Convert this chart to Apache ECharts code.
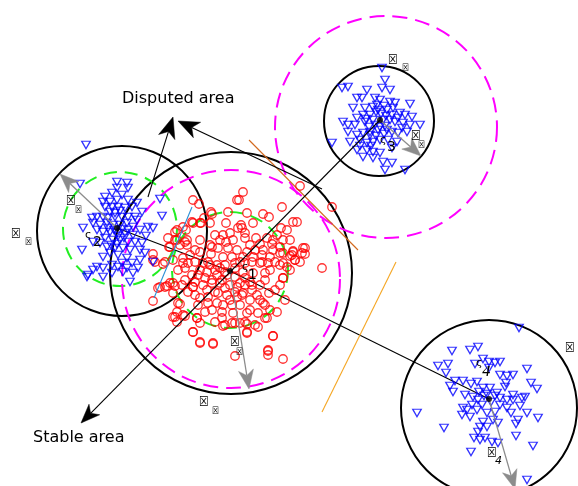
<!DOCTYPE html>
<html><head><meta charset="utf-8">
<script src="https://cdn.jsdelivr.net/npm/echarts@6/dist/echarts.min.js"></script>
<style>html,body{margin:0;padding:0;background:#fff}#c{width:578px;height:486px}</style>
</head><body><div id="c"></div>
<script>
// ---- data (pixel-like data units; y grows downward) ----
const redPoints = [
[243,192],[239,200],[193,200],[199,204],[300,186],[282,207],[212,214],[228,212],[247,213],[263,214],[269,217],[293,222],[297,222],[332,207],
[193,223],[200,223],[210,223],[226,223],[241,225],[253,223],[281,228],[287,230],[175,232],[186,230],[185,242],[177,240],[170,247],[200,252],
[293,251],[303,248],[305,254],[290,256],[295,260],[322,268],[287,267],[283,278],[192,275],[183,263],[165,262],[170,283],[175,286],[165,287],
[158,288],[173,293],[193,287],[180,304],[175,317],[185,316],[197,318],[193,332],[200,343],[213,344],[223,326],[232,323],[240,323],[247,324],
[247,333],[258,327],[267,318],[265,305],[273,336],[268,351],[268,355],[283,359],[235,356],
[192,222],[183,227],[177,230],[168,238],[175,240],[180,245],[187,240],[187,245],[169,247],[153,254],[163,264],[173,260],[183,258],[188,263],
[195,262],[203,263],[211,254],[212,247],[218,248],[220,240],[215,235],[223,235],[230,233],[226,242],[233,240],[238,228],[228,248],[237,250],
[232,257],[223,257],[208,262],[217,265],[225,265],[235,263],[155,262],[153,260],[201,223],[204,218],[211,212],[237,200],
[242,228],[245,233],[245,238],[256,238],[267,238],[273,240],[283,240],[290,240],[277,235],[250,245],[260,244],[272,244],[280,247],[305,248],
[302,253],[293,252],[283,253],[292,255],[295,260],[280,253],[273,250],[263,250],[255,250],[247,252],[243,257],[253,257],[262,255],[270,257],
[245,263],[252,262],[260,263],[268,263],[280,265],[283,263],[240,262],
[207,272],[198,275],[217,275],[227,275],[235,277],[203,285],[212,283],[220,283],[230,285],[237,287],[193,287],[195,295],[200,298],[208,297],
[218,293],[227,295],[237,297],[208,303],[217,303],[223,305],[232,305],[212,310],[222,312],[233,313],[160,287],[167,286],[173,283],[182,285],
[153,301],[178,303],[177,312],[183,315],[173,317],[177,322],[197,318],[200,323],[215,322],[225,325],[235,323],[193,332],[200,342],[213,343],
[243,272],[253,273],[265,273],[283,278],[240,283],[245,285],[252,285],[257,295],[243,293],[250,300],[263,303],[269,293],[270,310],[277,312],
[258,313],[247,313],[245,322],[247,332],[273,336],[268,350],
[210,265],[215,270],[220,268],[225,272],[235,268],[205,278],[212,280],[222,280],[245,278],[250,282],[200,270],[195,282],[207,290],[215,292],
[225,288],[235,292],[242,295],[252,290],[260,285],[265,280],[270,270],[275,262],[262,262],[210,245],[200,240],[195,250],[190,255],[185,268],
[188,292],[198,305],[205,312],[222,318],[230,300],[240,305],[250,310],[260,300],[275,290],[280,285],[290,270],[300,262],[285,300],[265,318],
[255,325],[185,280],[178,270]
];
const blueCluster2 = [
[86,145],[80,184],[117,182],[127,183],[117,188],[128,188],[112,193],[122,195],[105,197],[103,202],[110,202],[117,200],[128,200],[105,207],
[112,207],[118,207],[125,208],[132,207],[137,203],[92,218],[97,217],[103,217],[108,218],[115,217],[122,217],[128,217],[135,217],[93,223],
[100,225],[107,223],[113,225],[120,225],[127,223],[133,227],[83,228],[97,230],[103,232],[110,232],[117,233],[125,233],[133,235],[105,238],
[113,240],[120,240],[128,242],[135,242],[93,242],[100,243],[107,247],[115,248],[123,248],[130,250],[110,253],[118,255],[103,257],[82,250],
[127,258],[122,263],[132,263],[97,267],[103,268],[112,265],[118,267],[127,268],[103,277],[93,270],[112,273],[87,277],[123,272],[133,273],
[130,282],[160,199],[162,216],[142,212],[148,227],[153,228],[146,236],[140,230],[140,260],[153,262],[137,220],[142,243],[88,275],
[110,212],[115,213],[120,211],[108,228],[114,230],[122,229],[128,230],[118,236],[124,238],[111,245],[117,244],[140,250],[145,253],[138,268]
];
const blueCluster3 = [
[382,68],[385,80],[342,88],[348,87],[367,90],[382,88],[390,90],[357,98],[362,98],[375,98],[380,100],[390,102],[395,103],[410,104],
[353,108],[365,108],[373,107],[378,110],[387,110],[393,108],[400,113],[405,115],[412,117],[363,115],[370,115],[357,118],[343,122],[348,125],
[355,125],[365,122],[373,120],[383,120],[390,120],[395,122],[403,123],[410,125],[420,125],[348,132],[357,135],[363,133],[370,132],[378,130],
[387,130],[392,132],[398,133],[407,132],[350,142],[360,140],[367,143],[373,142],[380,140],[388,140],[397,142],[357,150],[367,150],[373,152],
[380,153],[363,157],[373,158],[383,162],[392,163],[385,170],[405,170],[332,143],[370,135],
[376,112],[381,114],[386,116],[375,125],[380,127],[385,126],[392,115],[369,127],[377,105],[384,106],[366,119],[398,118],[376,136],[384,134],
[360,146],[392,148],[371,146],[402,128]
];
const blueCluster4 = [
[519,328],[470,350],[478,347],[452,351],[483,359],[489,362],[495,363],[500,362],[438,366],[448,364],[475,364],[489,368],[446,373],[527,369],
[500,375],[507,376],[513,375],[506,383],[455,381],[463,381],[471,384],[477,382],[483,388],[490,388],[505,387],[531,383],[537,389],[450,386],
[453,392],[465,395],[473,397],[478,400],[487,394],[497,393],[500,398],[507,400],[513,400],[522,398],[525,397],[513,395],[520,406],[500,405],
[507,408],[511,413],[527,413],[472,405],[482,405],[463,408],[467,410],[477,410],[462,415],[470,417],[487,413],[495,412],[493,420],[498,423],
[483,422],[480,427],[487,427],[518,420],[516,424],[538,418],[478,432],[474,438],[480,440],[485,438],[492,442],[498,443],[516,436],[533,446],
[471,452],[417,413],[444,428],[527,480],[484,396],[491,402],[479,392],[495,396]
];
const clusterCenters = [[230,271],[117,228],[380,120],[489,399]];
const blackCircles = [[231,273,121],[122,231,85],[379,121,55],[489,408,88]];
const greenCircles = [[230,270,58],[120,229,57]];
const magentaCircles = [[231,279,109],[386,127,111]];
const blackSegments = [[117,228,230,271],[230,271,489,399]];
const brownSegments = [[249,140,358,250]];
const orangeSegments = [[322,412,396,262]];
const blueSegments = [[192,207,154,298]];
const bigBlackArrows = [[148,197,173,117],[322,189,178,121]];
const stableArrow = [[380,120,81,423]];
const grayArrows = [[117,228,60,174],[380,120,421,156],[230,271,249,389],[489,399,515,489]];
const areaLabels = ['Disputed area','Stable area'];
const boxChar = '\u2612';
const xiChar = '\u03c2';
const clusterIds = ['1','2','3','4'];

// ---- chart ----
const chart = echarts.init(document.getElementById('c'), null, {renderer:'canvas'});
function circleSeries(data, color, width, dash, z){
  return {type:'custom', coordinateSystem:'cartesian2d', data, z, silent:true, clip:false,
    renderItem:(p, api)=>{
      const c = api.coord([api.value(0), api.value(1)]);
      const s = api.size([api.value(2), api.value(2)]);
      return {type:'circle', shape:{cx:c[0], cy:c[1], r:s[0]},
        style:{fill:null, stroke:color, lineWidth:width, lineDash:dash}};
    }};
}
function segSeries(data, color, width, z){
  return {type:'custom', coordinateSystem:'cartesian2d', data, z, silent:true, clip:false,
    renderItem:(p, api)=>{
      const a = api.coord([api.value(0), api.value(1)]);
      const b = api.coord([api.value(2), api.value(3)]);
      return {type:'line', shape:{x1:a[0],y1:a[1],x2:b[0],y2:b[1]}, style:{stroke:color, lineWidth:width}};
    }};
}
function arrowSeries(data, color, width, L, W, z){
  return {type:'custom', coordinateSystem:'cartesian2d', data, z, silent:true, clip:false,
    renderItem:(p, api)=>{
      const a = api.coord([api.value(0), api.value(1)]);
      const b = api.coord([api.value(2), api.value(3)]);
      const dx=b[0]-a[0], dy=b[1]-a[1], len=Math.hypot(dx,dy);
      const ux=dx/len, uy=dy/len, nx=-uy, ny=ux;
      const bx=b[0]-ux*L, by=b[1]-uy*L;
      const mx=b[0]-ux*L*0.72, my=b[1]-uy*L*0.72;
      return {type:'group', children:[
        {type:'line', shape:{x1:a[0],y1:a[1],x2:mx,y2:my}, style:{stroke:color, lineWidth:width}},
        {type:'polygon', shape:{points:[[b[0],b[1]],[bx+nx*W/2,by+ny*W/2],[mx,my],[bx-nx*W/2,by-ny*W/2]]},
          style:{fill:color, stroke:color, lineWidth:0.5}}
      ]};
    }};
}
const FONT = '"DejaVu Sans", "Liberation Sans", sans-serif';
function txt(t, x, y, size, extra){
  return Object.assign({type:'text', x, y, z:100, silent:true,
    style:{text:t, font: size+'px '+FONT, fill:'#000', align:'left', verticalAlign:'top'}}, extra||{});
}
function box(x, y, size){ return txt(boxChar, x, y, size, {scaleX:0.78}); }

const option = {
  backgroundColor:'#ffffff',
  animation:false,
  grid:{left:0, right:0, top:0, bottom:0},
  xAxis:{type:'value', min:0, max:578, show:false},
  yAxis:{type:'value', min:0, max:486, inverse:true, show:false},
  series:[
    circleSeries(blackCircles, '#000000', 2, null, 2),
    circleSeries(greenCircles, '#22ee22', 2, [13,8], 3),
    circleSeries(magentaCircles, '#ff00ff', 2, [15,8], 3),
    segSeries(blackSegments, '#000000', 1.1, 4),
    segSeries(brownSegments, '#d2691e', 1.1, 4),
    segSeries(orangeSegments, '#f5a623', 1.1, 4),
    segSeries(blueSegments, '#2b8fd6', 1.1, 6),
    {type:'scatter', data:redPoints, symbol:'circle', symbolSize:8.5, z:5, silent:true,
      itemStyle:{color:'rgba(0,0,0,0)', borderColor:'#ff0000', borderWidth:1.3}},
    {type:'scatter', data:blueCluster2.concat(blueCluster3, blueCluster4), symbol:'triangle', symbolRotate:180,
      symbolSize:[8.5,7.5], z:5, silent:true,
      itemStyle:{color:'rgba(0,0,0,0)', borderColor:'#0000ff', borderWidth:1.3}},
    arrowSeries(bigBlackArrows, '#000000', 1.1, 21, 17, 6),
    arrowSeries(stableArrow, '#000000', 1.1, 19, 15, 6),
    arrowSeries(grayArrows, '#8c8c8c', 1.3, 19, 15, 6),
    {type:'scatter', data:clusterCenters, symbol:'circle', symbolSize:6, z:7, silent:true,
      itemStyle:{color:'#000000'}}
  ],
  graphic:[
    txt(areaLabels[0], 122, 91, 16),
    txt(areaLabels[1], 33, 430, 16),
    // cluster index labels
    txt(xiChar, 85, 230, 11), txt(clusterIds[1], 93, 235, 14),
    txt(xiChar, 242, 262, 11), txt(clusterIds[0], 248, 268, 14),
    txt(xiChar, 380, 135, 11), txt(clusterIds[2], 387, 140, 14),
    txt(xiChar, 476, 358, 11), txt(clusterIds[3], 482, 365, 14, {style:{text:clusterIds[3], font:'italic 14px '+FONT, fill:'#000', align:'left', verticalAlign:'top'}}),
    // missing-glyph style boxes
    box(66, 194, 14), box(75, 205, 10),
    box(11, 227, 14), box(25, 237, 10),
    box(388, 53, 14), box(402, 63, 10),
    box(411, 129, 14), box(418, 140, 10),
    box(230, 335, 14), box(236, 347, 10),
    box(199, 395, 14), box(212, 406, 10),
    box(565, 341, 14),
    box(487, 446, 14),
    txt(clusterIds[3], 495, 456, 11, {style:{text:clusterIds[3], font:'italic 11px '+FONT, fill:'#000', align:'left', verticalAlign:'top'}})
  ]
};
chart.setOption(option);
</script></body></html>
